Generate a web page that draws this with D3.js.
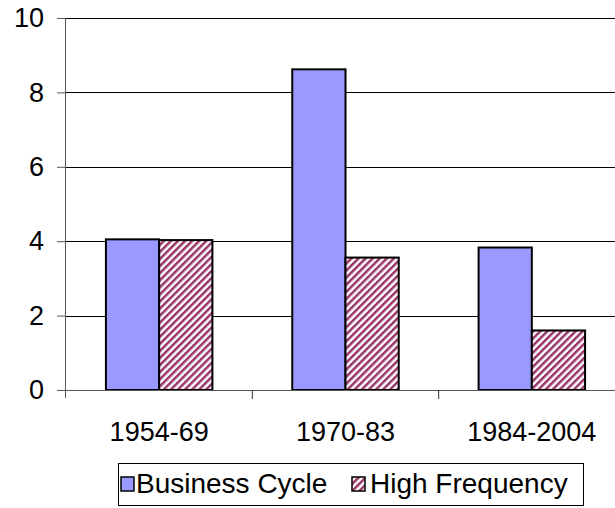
<!DOCTYPE html>
<html><head><meta charset="utf-8">
<script src="https://cdn.jsdelivr.net/npm/d3@7"></script>
<style>body{margin:0;background:#fff}svg{display:block}text{font-family:"Liberation Sans",Arial,sans-serif}</style>
</head><body><svg id="c" width="615" height="508"></svg>
<script>
const categories = ["1954-69","1970-83","1984-2004"];
const seriesNames = ["Business Cycle","High Frequency"];
const businessCycle = [4.05, 8.62, 3.83];
const highFrequency = [4.03, 3.56, 1.6];
const yTicks = [0,2,4,6,8,10];

const svg = d3.select("#c");
const defs = svg.append("defs");
const pat = defs.append("pattern").attr("id","hatch").attr("patternUnits","userSpaceOnUse")
  .attr("width",5).attr("height",5).attr("patternTransform","rotate(45)");
pat.append("rect").attr("width",5).attr("height",5).attr("fill","#fff");
pat.append("rect").attr("width",2.5).attr("height",5).attr("fill","#993366");

const pL = 66, pR = 625, pT = 18, pB = 390;
const x = d3.scaleBand().domain(categories).range([pL,pR]).paddingInner(0).paddingOuter(0);
const inner = d3.scaleBand().domain(seriesNames).range([0,x.bandwidth()]).paddingInner(0).paddingOuter(0.75);
const y = d3.scaleLinear().domain([0,10]).range([pB,pT]);
const fills = ["#9999ff","url(#hatch)"];
const data = [businessCycle, highFrequency];
const FONT = "Liberation Sans, Arial, sans-serif";

// gridlines
svg.append("g").selectAll("line").data(yTicks.filter(d=>d>0)).join("line")
  .attr("x1",pL).attr("x2",615).attr("y1",d=>Math.round(y(d))+0.5).attr("y2",d=>Math.round(y(d))+0.5)
  .attr("stroke","#000").attr("stroke-width",1);

// bars
seriesNames.forEach((s,si)=>{
  svg.append("g").selectAll("rect").data(categories).join("rect")
    .attr("x",c=>x(c)+inner(s)).attr("width",inner.bandwidth())
    .attr("y",(c,i)=>y(data[si][i])).attr("height",(c,i)=>pB-y(data[si][i]))
    .attr("fill",fills[si]).attr("stroke","#000").attr("stroke-width",2);
});

// y axis
const ya = svg.append("g").attr("transform",`translate(${pL},0)`)
  .call(d3.axisLeft(y).tickValues(yTicks).tickSize(9).tickPadding(13).tickFormat(d3.format("d")));
ya.select(".domain").attr("d",`M-0.5,${pT}V${pB+8}`).attr("stroke","#555");
ya.selectAll(".tick line").attr("stroke","#555");
ya.selectAll("text").attr("font-size",27).attr("fill","#000").attr("font-family",FONT);

// x axis
const xa = svg.append("g").attr("transform",`translate(0,${pB})`)
  .call(d3.axisBottom(x).tickSize(0).tickPadding(32));
xa.select(".domain").attr("d",`M${pL},0.5H615`).attr("stroke","#555");
xa.selectAll("text").attr("font-size",27).attr("fill","#000").attr("font-family",FONT);
svg.append("g").selectAll("line").data(categories.slice(1)).join("line")
  .attr("x1",c=>x(c)).attr("x2",c=>x(c)).attr("y1",pB).attr("y2",pB+9).attr("stroke","#333");

// legend
const lg = svg.append("g");
lg.append("rect").attr("x",118.5).attr("y",463.5).attr("width",465).attr("height",42)
  .attr("fill","#fff").attr("stroke","#000");
const items = [{n:seriesNames[0],f:fills[0],bx:121,tx:136},{n:seriesNames[1],f:fills[1],bx:352,tx:370}];
items.forEach(it=>{
  lg.append("rect").attr("x",it.bx).attr("y",477).attr("width",13).attr("height",14)
    .attr("fill",it.f).attr("stroke","#000").attr("stroke-width",1.5);
  lg.append("text").attr("x",it.tx).attr("y",493).attr("font-size",28).attr("font-family",FONT).text(it.n);
});
</script></body></html>
